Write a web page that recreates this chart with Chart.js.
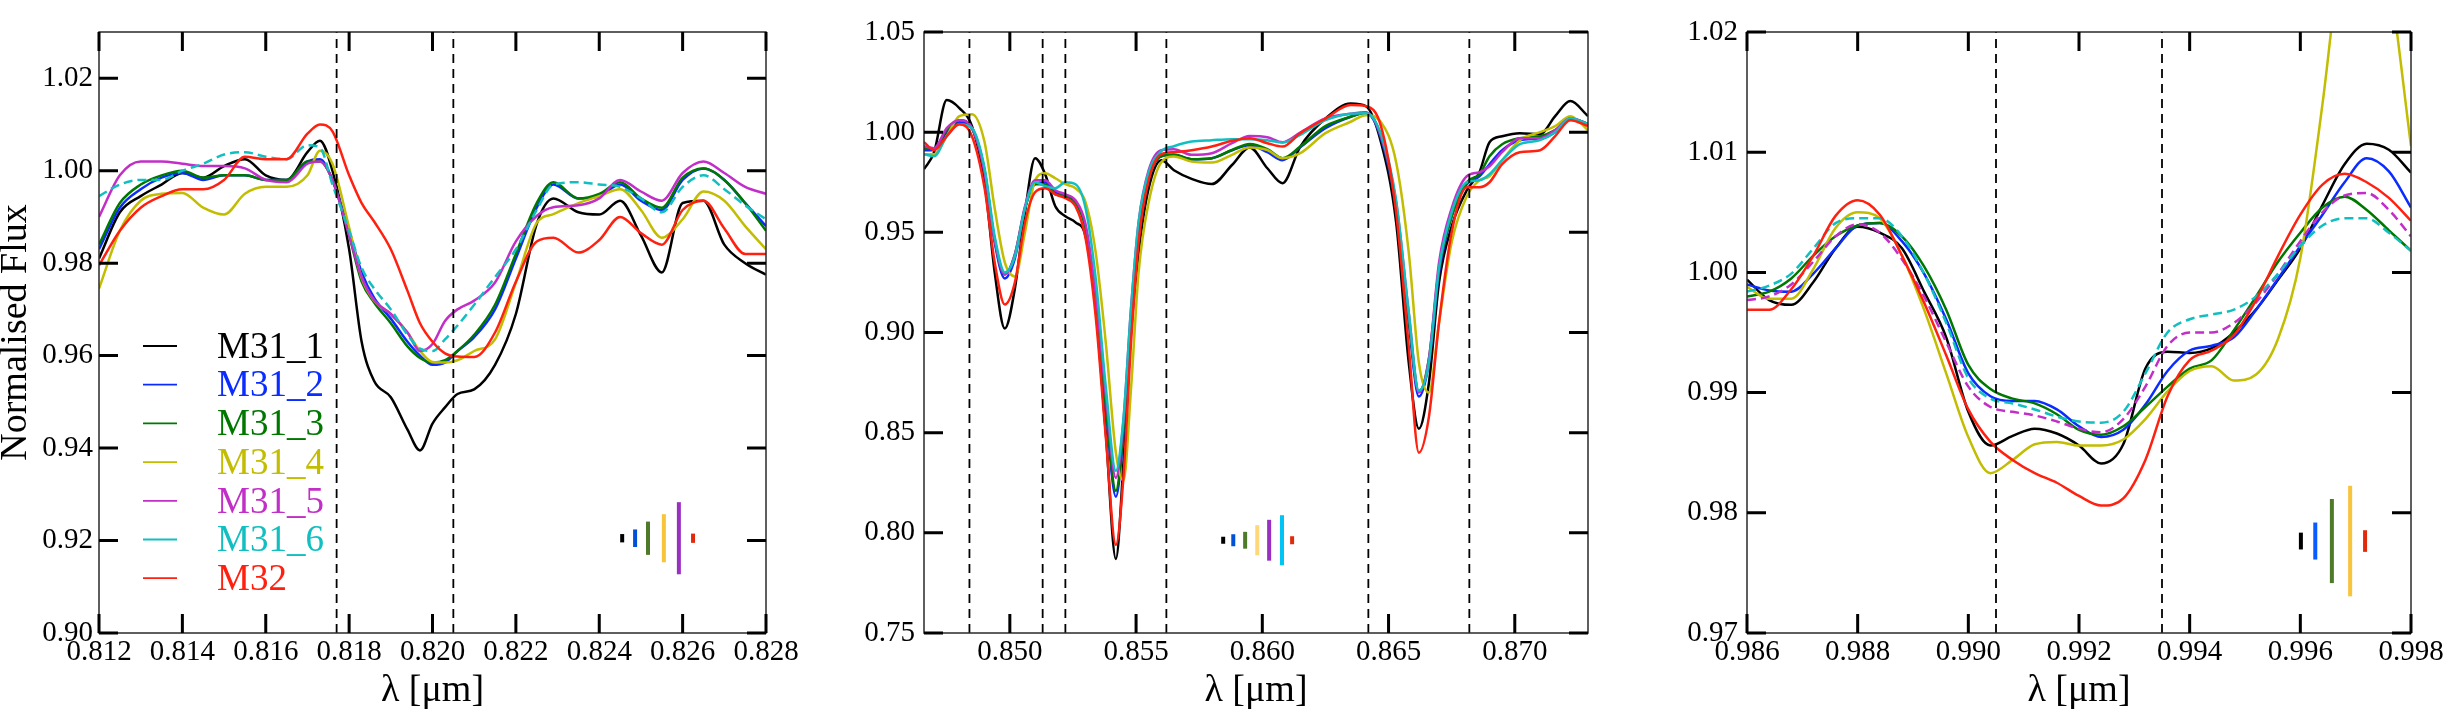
<!DOCTYPE html>
<html><head><meta charset="utf-8">
<script src="https://cdn.jsdelivr.net/npm/chart.js@4.4.1/dist/chart.umd.min.js"></script>
<style>
html,body{margin:0;padding:0;background:#fff;}
#wrap{position:relative;width:2455px;height:714px;overflow:hidden;background:#fff;}
canvas{position:absolute;top:0;}
</style></head><body>
<div id="wrap">
<canvas id="c1" width="820" height="714" style="left:0px;width:820px;height:714px"></canvas>
<canvas id="c2" width="820" height="714" style="left:820px;width:820px;height:714px"></canvas>
<canvas id="c3" width="815" height="714" style="left:1640px;width:815px;height:714px"></canvas>
</div>
<script>
// ---------------- DATA ----------------
const seriesNames = ['M31_1','M31_2','M31_3','M31_4','M31_5','M31_6','M32'];

// Panel 1 : Na I region
const p1Wave = [0.812,0.8125,0.813,0.8135,0.814,0.8145,0.815,0.8155,0.816,0.8165,0.817,0.8173,0.8176,0.818,0.8183,0.8186,0.819,0.8194,0.8197,0.820,0.8203,0.8206,0.821,0.8215,0.822,0.8225,0.8229,0.8235,0.824,0.8245,0.825,0.8255,0.826,0.8265,0.827,0.8275,0.828];
const p1_M31_1 = [0.981,0.991,0.9945,0.997,0.9995,0.9985,1.001,1.0025,0.999,0.998,1.004,1.0065,1.000,0.983,0.963,0.9545,0.951,0.944,0.9395,0.9453,0.9488,0.9517,0.9527,0.958,0.969,0.9885,0.994,0.991,0.9905,0.9935,0.986,0.978,0.993,0.9935,0.984,0.980,0.9775];
const p1_M31_2 = [0.983,0.992,0.996,0.9985,0.9995,0.998,0.999,0.999,0.998,0.998,1.002,1.0025,0.998,0.987,0.978,0.9725,0.968,0.963,0.960,0.958,0.9585,0.961,0.964,0.970,0.981,0.992,0.997,0.994,0.9945,0.997,0.9935,0.9915,0.998,1.0005,0.998,0.993,0.988];
const p1_M31_3 = [0.984,0.993,0.997,0.999,1.000,0.9985,0.999,0.999,0.998,0.998,1.002,1.002,0.998,0.986,0.976,0.9715,0.967,0.962,0.9595,0.9585,0.959,0.961,0.9645,0.971,0.982,0.993,0.9975,0.994,0.995,0.9975,0.994,0.992,0.9985,1.0005,0.998,0.993,0.987];
const p1_M31_4 = [0.9745,0.987,0.9935,0.995,0.9952,0.992,0.9905,0.995,0.9965,0.9965,0.999,1.0043,1.0015,0.9877,0.9768,0.9719,0.969,0.965,0.961,0.9586,0.9585,0.959,0.961,0.9635,0.9758,0.9887,0.9906,0.993,0.9945,0.996,0.9915,0.9855,0.9895,0.9955,0.9935,0.988,0.983];
const p1_M31_5 = [0.990,0.999,1.002,1.002,1.0015,1.001,1.001,1.0005,0.998,0.9975,1.0015,1.002,0.998,0.986,0.977,0.972,0.969,0.965,0.961,0.9625,0.9675,0.970,0.9719,0.9758,0.9847,0.9902,0.9921,0.9925,0.994,0.998,0.9955,0.9935,0.9995,1.002,0.9995,0.9965,0.995];
const p1_M31_6 = [0.9945,0.997,0.998,0.998,1.000,1.0015,1.0035,1.004,1.003,1.0025,1.0055,1.005,0.997,0.987,0.979,0.9745,0.970,0.9645,0.9615,0.961,0.9635,0.9665,0.971,0.977,0.983,0.9915,0.997,0.9975,0.997,0.9965,0.994,0.991,0.9965,0.999,0.996,0.9925,0.9895];
const p1_M32   = [0.9795,0.987,0.992,0.9945,0.996,0.996,0.998,1.003,1.0025,1.0025,1.008,1.010,1.0085,0.999,0.993,0.989,0.983,0.974,0.967,0.963,0.9605,0.9598,0.9597,0.965,0.976,0.9847,0.9855,0.9823,0.985,0.990,0.9865,0.984,0.9915,0.9935,0.9875,0.982,0.982];
const p1Bands = [0.8177, 0.8205];
const p1XTicks = [0.812,0.814,0.816,0.818,0.820,0.822,0.824,0.826,0.828];
const p1YTicks = [0.90,0.92,0.94,0.96,0.98,1.00,1.02];
const p1ErrX = [0.82455,0.82486,0.82517,0.82555,0.82591,0.82625];
const p1ErrHalf = [0.0009,0.0019,0.0036,0.0052,0.0078,0.001];
const p1ErrCenter = 0.9205;

// Panel 2 : Ca II triplet region
const p2Wave = [0.8466,0.8470,0.8475,0.8480,0.8485,0.8490,0.8494,0.8498,0.8502,0.8506,0.8510,0.8514,0.8518,0.8522,0.8526,0.8530,0.8534,0.8538,0.8542,0.8545,0.8548,0.8551,0.8555,0.8560,0.8565,0.8572,0.8580,0.8588,0.8595,0.8602,0.8608,0.8615,0.8625,0.8635,0.8641,0.8647,0.8653,0.8658,0.8662,0.8666,0.8670,0.8675,0.8681,0.8686,0.8690,0.8695,0.8702,0.8710,0.8716,0.8722,0.8729];
const p2_M31_1 = [0.9815,0.990,1.016,1.012,1.003,0.975,0.930,0.902,0.922,0.960,0.987,0.979,0.963,0.958,0.955,0.948,0.912,0.850,0.787,0.835,0.900,0.940,0.972,0.986,0.981,0.9767,0.9741,0.9836,0.9924,0.982,0.9745,0.9927,1.0068,1.0143,1.013,0.995,0.955,0.885,0.852,0.875,0.925,0.953,0.971,0.980,0.995,0.998,0.9995,0.999,1.008,1.0155,1.008];
const p2_M31_2 = [0.991,0.991,1.000,1.005,1.002,0.980,0.945,0.927,0.937,0.962,0.974,0.975,0.970,0.968,0.965,0.952,0.915,0.862,0.818,0.850,0.908,0.948,0.977,0.988,0.9887,0.9865,0.987,0.991,0.9935,0.990,0.986,0.9925,1.002,1.0077,1.0097,0.997,0.962,0.905,0.868,0.885,0.930,0.958,0.974,0.978,0.984,0.991,0.996,0.997,1.000,1.007,1.004];
const p2_M31_3 = [0.992,0.992,1.001,1.006,1.002,0.981,0.946,0.929,0.939,0.962,0.974,0.974,0.969,0.968,0.965,0.952,0.916,0.864,0.821,0.852,0.908,0.948,0.977,0.988,0.9887,0.9865,0.987,0.9911,0.9941,0.9915,0.987,0.9928,1.003,1.0077,1.0097,0.998,0.963,0.907,0.8705,0.887,0.932,0.958,0.975,0.979,0.988,0.994,0.997,0.998,1.001,1.007,1.004];
const p2_M31_4 = [0.989,0.989,0.998,1.008,1.009,0.995,0.962,0.935,0.928,0.950,0.976,0.9795,0.977,0.974,0.972,0.965,0.940,0.895,0.840,0.826,0.872,0.930,0.965,0.985,0.9878,0.9853,0.9848,0.9887,0.9924,0.9911,0.987,0.9895,0.9995,1.0052,1.0085,1.005,0.985,0.940,0.885,0.870,0.905,0.945,0.968,0.976,0.978,0.986,0.996,1.000,1.003,1.008,1.001];
const p2_M31_5 = [0.993,0.992,1.002,1.006,1.002,0.980,0.946,0.929,0.939,0.963,0.976,0.976,0.971,0.969,0.966,0.954,0.919,0.869,0.8275,0.856,0.912,0.955,0.981,0.991,0.9915,0.9887,0.9895,0.9945,0.9981,0.9975,0.995,0.9998,1.0068,1.0092,1.010,0.998,0.965,0.910,0.870,0.887,0.935,0.962,0.978,0.980,0.983,0.990,0.997,0.997,1.001,1.007,1.004];
const p2_M31_6 = [0.989,0.988,0.998,1.004,1.002,0.982,0.948,0.930,0.938,0.962,0.975,0.973,0.972,0.975,0.974,0.962,0.927,0.873,0.831,0.857,0.912,0.955,0.980,0.9905,0.993,0.9953,0.996,0.9965,0.9965,0.996,0.9948,0.9986,1.006,1.0092,1.0095,0.999,0.966,0.910,0.871,0.885,0.932,0.960,0.975,0.976,0.979,0.986,0.994,0.996,1.000,1.007,1.004];
const p2_M32   = [0.995,0.991,0.998,1.004,0.998,0.972,0.935,0.914,0.925,0.955,0.970,0.972,0.969,0.967,0.963,0.947,0.908,0.848,0.794,0.828,0.895,0.945,0.976,0.989,0.990,0.991,0.9928,0.9957,0.997,0.9945,0.9928,0.9995,1.0068,1.0135,1.013,1.003,0.960,0.893,0.840,0.858,0.905,0.950,0.9725,0.9725,0.975,0.984,0.990,0.991,0.998,1.006,1.003];
const p2Bands = [0.8484, 0.8513, 0.8522, 0.8562, 0.8642, 0.8682];
const p2XTicks = [0.850,0.855,0.860,0.865,0.870];
const p2YTicks = [0.75,0.80,0.85,0.90,0.95,1.00,1.05];
const p2ErrX = [0.85845,0.85885,0.85932,0.8598,0.86027,0.86078,0.86118];
const p2ErrHalf = [0.00175,0.003,0.0042,0.0075,0.0102,0.0125,0.002];
const p2ErrCenter = 0.7963;

// Panel 3 : FeH region
const p3Wave = [0.986,0.9864,0.9868,0.9872,0.9876,0.988,0.9884,0.9888,0.9892,0.9896,0.990,0.9904,0.9908,0.9912,0.9916,0.992,0.9924,0.9928,0.9932,0.9936,0.994,0.9944,0.9948,0.9952,0.9956,0.996,0.9964,0.9968,0.9972,0.9976,0.998];
const p3_M31_1 = [0.9994,0.9977,0.9973,0.9992,1.002,1.0038,1.0033,1.002,0.9984,0.9946,0.9884,0.9856,0.9864,0.987,0.9866,0.9856,0.9841,0.9857,0.992,0.9934,0.9933,0.9937,0.995,0.9969,0.9994,1.002,1.0056,1.009,1.0107,1.0102,1.0083];
const p3_M31_2 = [0.999,0.9985,0.9984,0.9999,1.002,1.0039,1.0041,1.0026,0.9999,0.9961,0.9916,0.9897,0.9893,0.9893,0.9886,0.9872,0.9863,0.9869,0.989,0.9918,0.9935,0.9939,0.9946,0.9969,0.9995,1.0022,1.0048,1.0075,1.0095,1.0084,1.0054];
const p3_M31_3 = [0.998,0.9984,0.9995,1.0014,1.003,1.0039,1.0041,1.003,1.0005,0.9969,0.9923,0.9903,0.9895,0.9891,0.9882,0.9869,0.9865,0.9872,0.9888,0.9905,0.992,0.9927,0.9952,0.998,1.0009,1.0033,1.0054,1.0063,1.0052,1.0035,1.0018];
const p3_M31_4 = [0.9988,0.9978,0.9978,1.0003,1.0037,1.005,1.0045,1.0014,0.9969,0.9916,0.9863,0.9833,0.9844,0.9857,0.9859,0.9856,0.9856,0.9861,0.9878,0.9901,0.9918,0.9922,0.991,0.9915,0.9945,1.0012,1.014,1.029,1.035,1.025,1.0105];
const p3_M31_5 = [0.9977,0.998,0.999,1.0009,1.003,1.004,1.0033,1.0011,0.998,0.9942,0.9905,0.9888,0.9884,0.9881,0.9876,0.987,0.9867,0.9878,0.9905,0.9939,0.995,0.995,0.9958,0.9975,0.9999,1.0026,1.005,1.0064,1.0066,1.0052,1.003];
const p3_M31_6 = [0.9984,0.9989,0.9999,1.002,1.0041,1.0045,1.0045,1.003,0.9999,0.9958,0.9912,0.9895,0.9891,0.9886,0.988,0.9876,0.9875,0.9884,0.9916,0.995,0.9961,0.9965,0.9969,0.998,0.9999,1.0022,1.0039,1.0045,1.0045,1.0033,1.0018];
const p3_M32   = [0.9969,0.9969,0.9986,1.0014,1.0047,1.006,1.0048,1.0014,0.9975,0.9931,0.9886,0.9859,0.9844,0.9833,0.9825,0.9814,0.9806,0.9812,0.9844,0.9897,0.9927,0.9935,0.9948,0.9977,1.0014,1.0048,1.0073,1.0082,1.0075,1.0062,1.0043];
const p3Bands = [0.9905, 0.9935];
const p3XTicks = [0.986,0.988,0.990,0.992,0.994,0.996,0.998];
const p3YTicks = [0.97,0.98,0.99,1.00,1.01,1.02];
const p3ErrX = [0.99601,0.99627,0.99657,0.9969,0.99717];
const p3ErrHalf = [0.0007,0.00154,0.0035,0.0046,0.0009];
const p3ErrCenter = 0.97765;

// ---------------- STYLE ----------------
const SERIF = '"Liberation Serif", "Times New Roman", serif';
const lineColors = ['#000000','#0a2cff','#007800','#c2bd00','#c22fc8','#12bfc0','#ff2010'];

function pts(w, v){ return w.map((x,i)=>({x:x, y:v[i]})); }

function spectra(wave, arrays, dashed){
  return arrays.map((arr,i)=>({
    label: seriesNames[i], isSeries: true,
    data: pts(wave, arr),
    borderColor: lineColors[i], backgroundColor: lineColors[i],
    borderWidth: 2.5, pointRadius: 0, fill: false,
    cubicInterpolationMode: 'monotone',
    borderDash: dashed.includes(i) ? [9,5] : [],
    clip: 0, order: 20 - i
  }));
}
function bands(vals, ymin, ymax){
  return vals.map(v=>({
    label: 'band', data: [{x:v,y:ymin},{x:v,y:ymax}],
    borderColor:'#000', borderWidth: 1.8, borderDash:[9,6], pointRadius:0, fill:false, order: 2, clip: 0
  }));
}
function errBars(xs, halves, center, colors){
  return xs.map((x,i)=>({
    label: 'err', data: [{x:x,y:center-halves[i]},{x:x,y:center+halves[i]}],
    borderColor: colors[i], borderWidth: 4, borderCapStyle:'butt', pointRadius:0, fill:false, order: 1
  }));
}

const framePlugin = {
  id: 'frameTicks',
  afterDatasetsDraw(chart){
    const {ctx, chartArea:a, scales:{x, y}} = chart;
    ctx.save();
    ctx.strokeStyle = '#2a2a2a'; ctx.lineWidth = 1.5;
    ctx.strokeRect(a.left, a.top, a.right - a.left, a.bottom - a.top);
    ctx.strokeStyle = '#000'; ctx.lineWidth = 3; ctx.lineCap = 'butt';
    const L = 19;
    ctx.beginPath();
    x.ticks.forEach(t=>{ const px = x.getPixelForValue(t.value);
      ctx.moveTo(px, a.bottom); ctx.lineTo(px, a.bottom - L);
      ctx.moveTo(px, a.top); ctx.lineTo(px, a.top + L); });
    y.ticks.forEach(t=>{ const py = y.getPixelForValue(t.value);
      ctx.moveTo(a.left, py); ctx.lineTo(a.left + L, py);
      ctx.moveTo(a.right, py); ctx.lineTo(a.right - L, py); });
    ctx.stroke();
    ctx.restore();
  }
};

const legendPlugin = {
  id: 'seriesLegend',
  afterDraw(chart){
    const ctx = chart.ctx;
    ctx.save();
    ctx.font = '37px ' + SERIF; ctx.textBaseline = 'middle'; ctx.textAlign = 'left';
    chart.data.datasets.filter(d=>d.isSeries).forEach((d,i)=>{
      const yy = 346 + i*38.7;
      ctx.strokeStyle = d.borderColor; ctx.lineWidth = 1.8; ctx.setLineDash([]);
      ctx.beginPath(); ctx.moveTo(143, yy); ctx.lineTo(177, yy); ctx.stroke();
      ctx.fillStyle = d.borderColor; ctx.fillText(d.label, 217, yy + 2);
    });
    ctx.restore();
  }
};

function makeChart(id, o){
  const datasets = [].concat(o.series, o.bands, o.errs);
  return new Chart(document.getElementById(id), {
    type: 'line',
    data: { datasets },
    plugins: o.legend ? [framePlugin, legendPlugin] : [framePlugin],
    options: {
      responsive: false, animation: false, devicePixelRatio: 1, events: [],
      layout: { padding: { left: 0, top: 32, right: o.padRight, bottom: 0 } },
      plugins: { legend: { display: false }, tooltip: { enabled: false } },
      scales: {
        x: {
          type: 'linear', min: o.xmin, max: o.xmax,
          afterBuildTicks(s){ s.ticks = o.xticks.map(v=>({value:v})); },
          afterFit(s){ s.height = 81; s.paddingLeft = 0; s.paddingRight = 0; },
          grid: { display: false, drawTicks: false }, border: { display: false },
          ticks: { font: { family: SERIF, size: 29 }, color: '#000', padding: 2, maxRotation: 0, autoSkip: false,
                   callback: v => Number(v).toFixed(3) },
          title: { display: true, text: 'λ [μm]', color: '#000', padding: 0,
                   font: { family: SERIF, size: 38, lineHeight: 1.2 } }
        },
        y: {
          type: 'linear', min: o.ymin, max: o.ymax,
          afterBuildTicks(s){ s.ticks = o.yticks.map(v=>({value:v})); },
          afterFit(s){ s.width = o.yWidth; s.paddingTop = 0; s.paddingBottom = 0; },
          grid: { display: false, drawTicks: false }, border: { display: false },
          ticks: { font: { family: SERIF, size: 29 }, color: '#000', padding: o.yPad, autoSkip: false,
                   callback: v => Number(v).toFixed(2) },
          title: { display: !!o.ytitle, text: o.ytitle || '', color: '#000', padding: 0,
                   font: { family: SERIF, size: 38, lineHeight: 0.85 } }
        }
      }
    }
  });
}

makeChart('c1', {
  series: spectra(p1Wave, [p1_M31_1,p1_M31_2,p1_M31_3,p1_M31_4,p1_M31_5,p1_M31_6,p1_M32], [5]),
  bands: bands(p1Bands, 0.90, 1.03),
  errs: errBars(p1ErrX, p1ErrHalf, p1ErrCenter, ['#000000','#0050d8','#4e7a2a','#f8c53a','#9a30c2','#e02a0a']),
  xmin: 0.812, xmax: 0.828, ymin: 0.90, ymax: 1.03, xticks: p1XTicks, yticks: p1YTicks,
  padRight: 54, yWidth: 99, yPad: 6, ytitle: 'Normalised Flux', legend: true
});
makeChart('c2', {
  series: spectra(p2Wave, [p2_M31_1,p2_M31_2,p2_M31_3,p2_M31_4,p2_M31_5,p2_M31_6,p2_M32], []),
  bands: bands(p2Bands, 0.75, 1.05),
  errs: errBars(p2ErrX, p2ErrHalf, p2ErrCenter, ['#000000','#0050d8','#4e7a2a','#fdd77a','#9a30c2','#00c4f4','#e02a0a']),
  xmin: 0.8466, xmax: 0.8729, ymin: 0.75, ymax: 1.05, xticks: p2XTicks, yticks: p2YTicks,
  padRight: 52, yWidth: 104, yPad: 9, ytitle: null, legend: false
});
makeChart('c3', {
  series: spectra(p3Wave, [p3_M31_1,p3_M31_2,p3_M31_3,p3_M31_4,p3_M31_5,p3_M31_6,p3_M32], [4,5]),
  bands: bands(p3Bands, 0.97, 1.02),
  errs: errBars(p3ErrX, p3ErrHalf, p3ErrCenter, ['#000000','#0a5cff','#4e7a2a','#f8c53a','#e02a0a']),
  xmin: 0.986, xmax: 0.998, ymin: 0.97, ymax: 1.02, xticks: p3XTicks, yticks: p3YTicks,
  padRight: 44, yWidth: 107, yPad: 9, ytitle: null, legend: false
});
</script>
</body></html>
